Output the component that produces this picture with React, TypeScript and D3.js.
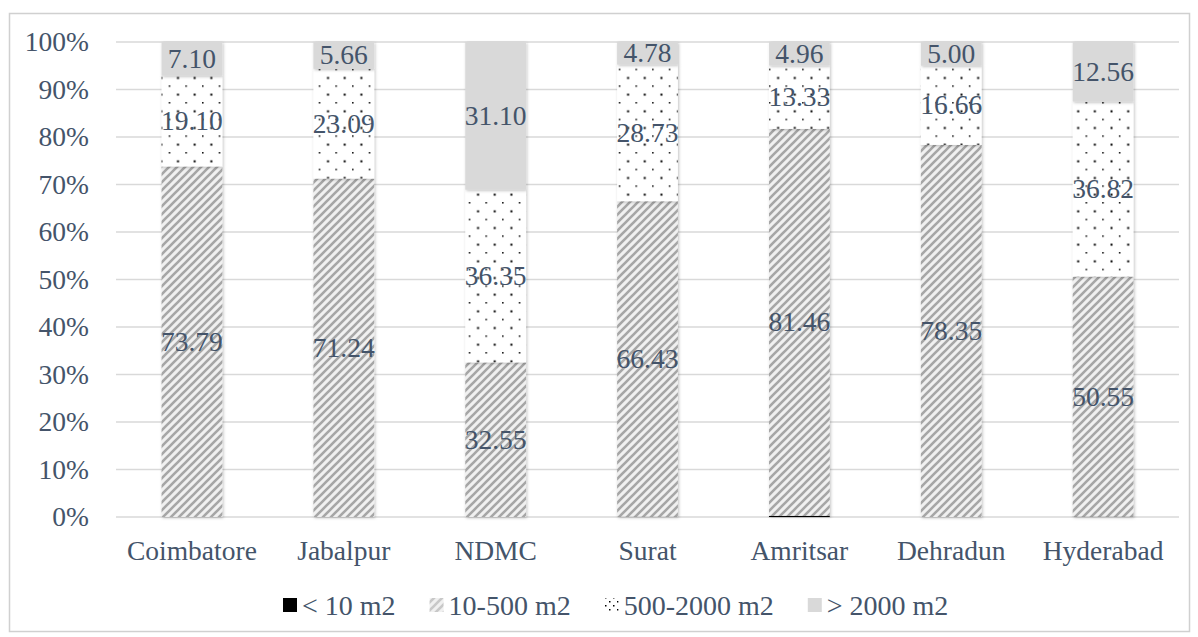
import React, { useMemo } from 'react';
import * as d3 from 'd3';

const categories = ['Coimbatore', 'Jabalpur', 'NDMC', 'Surat', 'Amritsar', 'Dehradun', 'Hyderabad'];
const seriesNames = ['< 10 m2', '10-500 m2', '500-2000 m2', '> 2000 m2'];
const below10 = [0.01, 0.01, 0, 0.06, 0.25, 0, 0.07];
const s10to500 = [73.79, 71.24, 32.55, 66.43, 81.46, 78.35, 50.55];
const s500to2000 = [19.1, 23.09, 36.35, 28.73, 13.33, 16.66, 36.82];
const above2000 = [7.1, 5.66, 31.1, 4.78, 4.96, 5.0, 12.56];
const yTickValues = [0, 0.1, 0.2, 0.3, 0.4, 0.5, 0.6, 0.7, 0.8, 0.9, 1];

const W = 1198;
const H = 637;
const FONT = 'Liberation Serif';
const FS = 27.5;
const LFS = 28;
const TXT = '#44546a';
const fills = ['#000000', 'url(#hatch)', 'url(#dots)', '#d9d9d9'];
const legendFills = ['#000000', 'url(#hatchL)', 'url(#dotsL)', '#d9d9d9'];
const tStyle: React.CSSProperties = { fontFamily: FONT, fontSize: `${FS}px` };
const lStyle: React.CSSProperties = { fontFamily: FONT, fontSize: `${LFS}px` };

export default function App() {
  const table = categories.map((c, i) => ({
    cat: c,
    [seriesNames[0]]: below10[i],
    [seriesNames[1]]: s10to500[i],
    [seriesNames[2]]: s500to2000[i],
    [seriesNames[3]]: above2000[i],
  }));
  const stacked = d3.stack<any>().keys(seriesNames).offset(d3.stackOffsetExpand)(table);

  const plot = { left: 116, right: 1179, top: 42, bottom: 517 };
  const x = d3.scaleBand().domain(categories).range([plot.left, plot.right]).paddingInner(0.6).paddingOuter(0.3);
  const y = d3.scaleLinear().domain([0, 1]).range([plot.bottom, plot.top]);

  const widths = useMemo(() => {
    const cv = document.createElement('canvas');
    const ctx = cv.getContext('2d')!;
    ctx.font = `${LFS}px "Liberation Serif"`;
    return seriesNames.map((s) => ctx.measureText(s).width);
  }, []);

  const marker = 14;
  const gapMT = 5;
  const gapItems = 34;
  let lx = 283;
  const legendItems = seriesNames.map((s, i) => {
    const item = { name: s, x: lx, fill: legendFills[i] };
    lx += marker + gapMT + widths[i] + gapItems;
    return item;
  });

  const values = [below10, s10to500, s500to2000, above2000];

  return (
    <svg width={W} height={H} style={{ position: 'absolute', left: 0, top: 0 }}>
      <defs>
        <pattern id="hatch" patternUnits="userSpaceOnUse" width={8} height={8}>
          <rect width={8} height={8} fill="#f0f0f0" />
          <path d="M-2,2 l4,-4 M0,8 l8,-8 M6,10 l4,-4" stroke="#a6a6a6" strokeWidth={2.6} />
        </pattern>
        <pattern id="hatchL" patternUnits="userSpaceOnUse" width={8} height={8}>
          <rect width={8} height={8} fill="#f0f0f0" />
          <path d="M-2,2 l4,-4 M0,8 l8,-8 M6,10 l4,-4" stroke="#c8c8c8" strokeWidth={2.6} />
        </pattern>
        <pattern id="dots" patternUnits="userSpaceOnUse" width={16.67} height={16.67}>
          <rect width={16.67} height={16.67} fill="#ffffff" />
          <rect x={2} y={2} width={1.5} height={1.5} fill="#000" />
          <rect x={10.3} y={10.3} width={2} height={2} fill="#000" />
        </pattern>
        <pattern id="dotsL" patternUnits="userSpaceOnUse" width={8} height={8}>
          <rect width={8} height={8} fill="#ffffff" />
          <rect x={1} y={1} width={1.5} height={1.5} fill="#000" />
          <rect x={5} y={5} width={1.5} height={1.5} fill="#000" />
        </pattern>
        <filter id="shadow" x="-20%" y="-20%" width="140%" height="140%">
          <feDropShadow dx={1} dy={1} stdDeviation={1.5} floodColor="#000" floodOpacity={0.25} />
        </filter>
      </defs>
      <rect x={0} y={0} width={W} height={H} fill="#ffffff" />
      <rect x={9.5} y={13.5} width={1180} height={618} fill="none" stroke="#d0d0d0" strokeWidth={1.5} />

      {yTickValues.map((t) => (
        <g key={t}>
          <line x1={plot.left} x2={plot.right} y1={y(t)} y2={y(t)} stroke="#d9d9d9" strokeWidth={1.5} />
          <text x={89} y={y(t) + 9} textAnchor="end" style={tStyle} fill={TXT}>
            {d3.format('.0%')(t)}
          </text>
        </g>
      ))}

      {stacked.map((layer, si) => (
        <g key={layer.key} filter="url(#shadow)">
          {layer.map((d, i) => (
            <rect
              key={i}
              x={x(categories[i])}
              width={x.bandwidth()}
              y={y(d[1])}
              height={Math.max(0, y(d[0]) - y(d[1]))}
              fill={fills[si]}
            />
          ))}
        </g>
      ))}

      {stacked.map((layer, si) =>
        si === 0
          ? null
          : layer.map((d, i) => (
              <text
                key={`${si}-${i}`}
                x={(x(categories[i]) as number) + x.bandwidth() / 2}
                y={(y(d[0]) + y(d[1])) / 2 + 9}
                textAnchor="middle"
                style={tStyle}
                fill={TXT}
              >
                {values[si][i].toFixed(2)}
              </text>
            ))
      )}

      {categories.map((c) => (
        <text key={c} x={(x(c) as number) + x.bandwidth() / 2} y={560} textAnchor="middle" style={tStyle} fill={TXT}>
          {c}
        </text>
      ))}

      {legendItems.map((it) => (
        <g key={it.name}>
          <rect x={it.x} y={598} width={marker} height={marker} fill={it.fill} />
          <text x={it.x + marker + gapMT} y={615} style={lStyle} fill={TXT}>
            {it.name}
          </text>
        </g>
      ))}
    </svg>
  );
}
